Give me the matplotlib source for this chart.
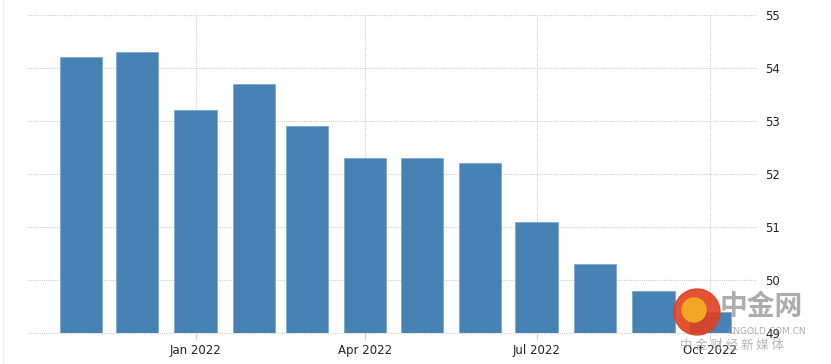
import matplotlib
matplotlib.use("Agg")
import matplotlib.pyplot as plt
import matplotlib.dates as mdates
from matplotlib.patches import Ellipse
import datetime as dt

months = ["2021-11", "2021-12", "2022-01", "2022-02", "2022-03", "2022-04",
          "2022-05", "2022-06", "2022-07", "2022-08", "2022-09", "2022-10"]
values = [54.2, 54.3, 53.2, 53.7, 52.9, 52.3, 52.3, 52.2, 51.1, 50.3, 49.8, 49.4]
yticks = [49, 50, 51, 52, 53, 54, 55]
xtick_dates = ["2022-01", "2022-04", "2022-07", "2022-10"]
xtick_labels = ["Jan 2022", "Apr 2022", "Jul 2022", "Oct 2022"]

def to_date(s):
    y, m = s.split("-")
    return dt.datetime(int(y), int(m), 1)

dates = [to_date(m) for m in months]

fig = plt.figure(figsize=(8.31, 3.64), dpi=100)
ax = fig.add_axes([28/831, 31/364, (757-28)/831, (333-15)/364])

ax.bar(mdates.date2num(dates), values, width=22.5, bottom=0,
       color="#4682b4", edgecolor="#7fa8cc", linewidth=0.6, zorder=2)

ax.set_ylim(49, 55)
ax.set_xlim(mdates.date2num(dt.datetime(2021, 10, 4)),
            mdates.date2num(dt.datetime(2022, 10, 26)))
ax.set_yticks(yticks)
ax.set_yticklabels([str(v) for v in yticks])
ax.yaxis.tick_right()
ax.set_xticks(mdates.date2num([to_date(d) for d in xtick_dates]))
ax.set_xticklabels(xtick_labels)

for s in ax.spines.values():
    s.set_visible(False)
ax.grid(True, color="#d0d0d0", linestyle=(0, (1, 1)), linewidth=0.8, zorder=0)
ax.tick_params(axis="y", length=0, pad=6, labelsize=8.5, labelcolor="#222222")
ax.tick_params(axis="x", length=5, width=0.8, color="#d0d0d0", pad=3,
               labelsize=8.5, labelcolor="#222222")
ax.axhline(49, color="#d0d0d0", linestyle=(0, (1, 1)), linewidth=0.8, zorder=1,
           clip_on=False)

# faint left border of image
fig.add_artist(plt.Line2D([3.5/831, 3.5/831], [0, 1], color="#eeeeee", linewidth=1))

# watermark
fig.add_artist(Ellipse((697/831, 1 - 312/364), 46/831, 46/364,
               transform=fig.transFigure, color="#e0401f", alpha=0.9,
               zorder=5))
fig.add_artist(Ellipse((694/831, 1 - 310/364), 24/831, 24/364,
               transform=fig.transFigure, color="#f5b020", alpha=0.9,
               zorder=5))
fig.text(720/831, 1 - 307/364, "中金网", fontsize=20, color="#999999",
         family=["Noto Sans CJK SC", "DejaVu Sans"], va="center", ha="left",
         fontweight="bold", alpha=0.8, zorder=6)
fig.text(727/831, 1 - 332/364, "CNGOLD.COM.CN", fontsize=6.5, color="#999999",
         va="center", ha="left", alpha=0.8, zorder=6)
fig.text(680/831, 1 - 345/364, "中 金 财 经 新 媒 体", fontsize=9, color="#999999",
         family=["Noto Sans CJK SC", "DejaVu Sans"], va="center", ha="left",
         alpha=0.7, zorder=6)

fig.savefig("out.png", dpi=100)
